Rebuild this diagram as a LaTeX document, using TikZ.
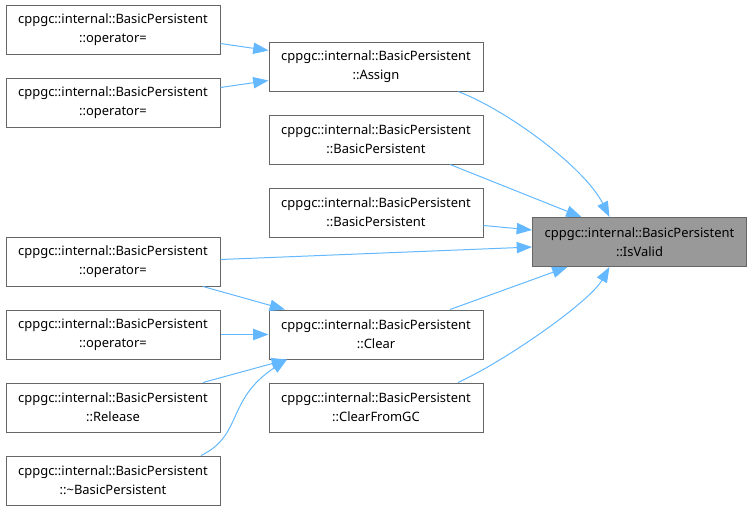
\documentclass[tikz,border=0pt]{standalone}
\usepackage{fontspec}
\setmainfont{Noto Sans}
\usetikzlibrary{arrows.meta,calc}
\definecolor{edgeblue}{HTML}{63B8FF}
\definecolor{boxborder}{HTML}{666666}
\definecolor{boxgray}{HTML}{999999}
\begin{document}
\begin{tikzpicture}[x=0.75pt,y=-0.75pt,
  fn/.style={draw=boxborder,line width=0.75pt,fill=white,rectangle,minimum width=160.5pt,minimum height=36.75pt,inner sep=0pt,align=center,font=\fontsize{9.7pt}{14.25pt}\selectfont},
  cur/.style={fn,fill=boxgray},
  edge/.style={draw=edgeblue,line width=0.75pt,-{Triangle[length=11.5pt,width=8.5pt]}}]
\useasboundingbox (0,0) rectangle (753,511);
% left column
\node[fn] (l1) at (113,29.5) {cppgc::internal::BasicPersistent\\::operator=};
\node[fn] (l2) at (113,102.5) {cppgc::internal::BasicPersistent\\::operator=};
\node[fn] (l3) at (113,261.5) {cppgc::internal::BasicPersistent\\::operator=};
\node[fn] (l4) at (113,334.5) {cppgc::internal::BasicPersistent\\::operator=};
\node[fn] (l5) at (113,407.5) {cppgc::internal::BasicPersistent\\::Release};
\node[fn] (l6) at (113,480.5) {cppgc::internal::BasicPersistent\\::\char"007E BasicPersistent};
% middle column
\node[fn] (m1) at (376,66.5) {cppgc::internal::BasicPersistent\\::Assign};
\node[fn] (m2) at (376,139.5) {cppgc::internal::BasicPersistent\\::BasicPersistent};
\node[fn] (m3) at (376,212.5) {cppgc::internal::BasicPersistent\\::BasicPersistent};
\node[fn] (m4) at (376,334.5) {cppgc::internal::BasicPersistent\\::Clear};
\node[fn] (m5) at (376,407.5) {cppgc::internal::BasicPersistent\\::ClearFromGC};
% target
\node[cur] (r) at (639.5,242) {cppgc::internal::BasicPersistent\\::IsValid};
% edges into Assign
\draw[edge] ($(l1.east)+(0,14)$) -- ($(m1.west)+(0,-16)$);
\draw[edge] ($(l2.east)+(0,-15)$) -- ($(m1.west)+(0,14)$);
% edges into IsValid
\draw[edge] ($(m1.south)+(82,0)$) .. controls ($(m1.south)+(130,18)$) and ($(r.north)+(-55,-50)$) .. ($(r.north)+(-30,0)$);
\draw[edge] ($(m2.south)+(74,0)$) -- ($(r.north)+(-58,0)$);
\draw[edge] ($(m3.east)+(0,13)$) -- ($(r.west)+(0,-12)$);
\draw[edge] ($(l3.east)+(0,-2)$) -- ($(r.west)+(0,5)$);
\draw[edge] ($(m4.north)+(74,0)$) -- ($(r.south)+(-72,0)$);
\draw[edge] ($(m5.north)+(82,0)$) .. controls ($(m5.north)+(130,-22)$) and ($(r.south)+(-50,35)$) .. ($(r.south)+(-30,0)$);
% edges into Clear
\draw[edge] ($(l3.south)+(90,0)$) -- ($(m4.north)+(-91,0)$);
\draw[edge] (l4.east) -- (m4.west);
\draw[edge] ($(l5.north)+(90,0)$) -- ($(m4.south)+(-89,0)$);
\draw[edge] ($(l6.north)+(88,0)$) .. controls ($(l6.north)+(130,-20)$) and ($(m4.south)+(-150,40)$) .. ($(m4.south)+(-89,0)$);
\end{tikzpicture}
\end{document}
